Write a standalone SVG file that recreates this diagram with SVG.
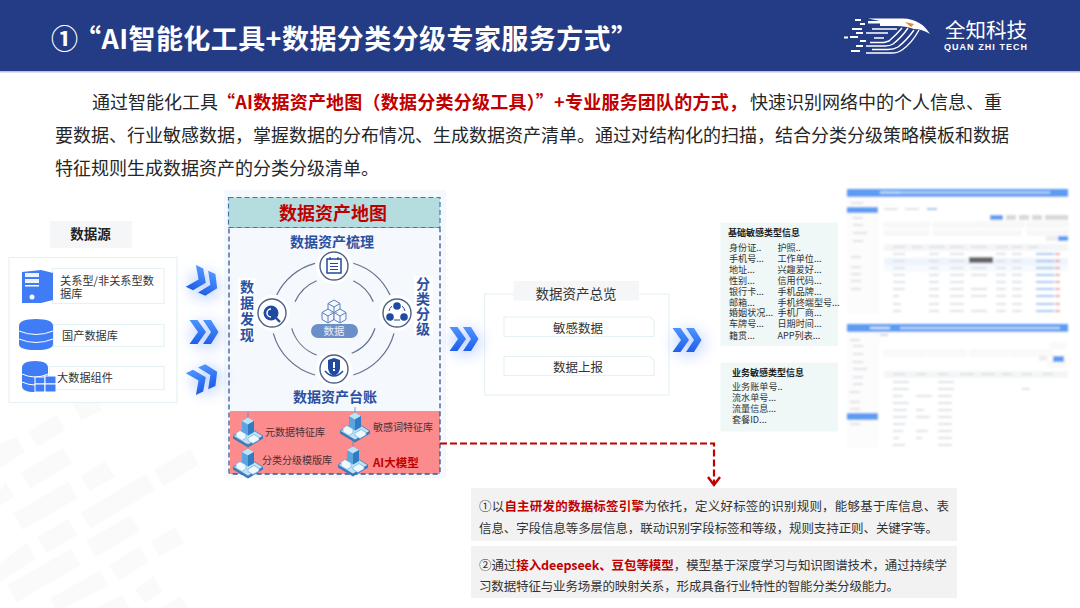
<svg xmlns="http://www.w3.org/2000/svg" width="1080" height="608" viewBox="0 0 1080 608">
<style>
text{font-family:"Noto Sans CJK SC","Liberation Sans",sans-serif}
.body{font-size:18px;fill:#262626}
.red{fill:#c00000;font-weight:700}
.lbl{font-size:11.2px;fill:#333}
.blue{font-size:14px;font-weight:700;fill:#2b50a0}
.sm{font-size:9.1px;fill:#333}
.smb{font-size:9px;fill:#222;font-weight:700}
.p{font-size:12.5px;fill:#333}
.frame{fill:#fff;stroke:#e4f2f5;stroke-width:1.2}
.ring{fill:none;stroke:#65718f;stroke-width:1.2}
.halo{fill:#fff}
.cir{fill:#fff;stroke:#4d6187;stroke-width:1.4}
.ic{fill:#1f4aa0}
.db{fill:#3f7cf5}
.bl{fill:#dfe2e7}
.cube{fill:#f5f8fd;stroke:#5a7fbc;stroke-width:1}
</style>
<defs>
<linearGradient id="cg" x1="0" y1="0" x2="0" y2="1"><stop offset="0" stop-color="#4d94ff"/><stop offset="1" stop-color="#1f5fe8"/></linearGradient>
<filter id="gl" x="-60%" y="-60%" width="220%" height="220%"><feGaussianBlur stdDeviation="7"/></filter>
<filter id="soft" x="-5%" y="-5%" width="110%" height="110%"><feGaussianBlur stdDeviation="0.8"/></filter>
<g id="chev">
<ellipse cx="2" cy="3" rx="16" ry="14" fill="#5c8cff" opacity=".3" filter="url(#gl)"/>
<path d="M-14.500-12h8L2 0-6.500 12h-8L-6 0Z" fill="url(#cg)"/>
<path d="M-1-12h8L14.500 0 7 12h-8L7 0Z" fill="url(#cg)"/>
</g>
<g id="bld">
<path d="M-15 3 0-6 15 3 0 12Z" fill="#bfe2f5" stroke="#3f7fbf" stroke-width=".8"/>
<path d="M-15 3 0 12 15 3V5.500L0 14.500-15 5.500Z" fill="#3d79b8"/>
<path d="M-6-1V-12L0-15.500 6-12V-1L0 2.500Z" fill="#5aa5e0"/>
<path d="M-6-12 0-15.500 6-12 0-8.500Z" fill="#bfe2f5"/>
<path d="M0-8.500V2.500L6-1V-12Z" fill="#2f7cc4"/>
<path d="M0-15.500V-21" stroke="#4d8cc4" stroke-width=".8"/>
<path d="M-12 0-8-2.500-2 1V5L-6 7.500-12 4Z" fill="#eef8fd" stroke="#5aa5e0" stroke-width=".6"/>
<path d="M0 5 6 1.500 11 4.500V7L5 10.500 0 7.500Z" fill="#eef8fd" stroke="#5aa5e0" stroke-width=".6"/>
</g>
<path id="cu" class="cube" d="M0-7 6-3.500V3.500L0 7-6 3.500V-3.500ZM-6-3.500 0 0 6-3.500M0 0V7"/>
</defs>

<rect width="1080" height="608" fill="#fff"/>
<g id="watermark" fill="#fafafb" transform="translate(0 400) scale(.33333)">
<path d="M0 130 50 112 75 155 0 205Z"/><path d="M85 95 168 43 197 90 112 140Z"/><path d="M220 15 285-20 307 30 245 62Z"/>
<path d="M63 218 188 143 217 190 92 265Z"/><path d="M0 275 15 243 43 290 0 318Z"/><path d="M40 340 205 245 233 295 68 390Z"/>
<path d="M242 230 315 182 343 230 270 273Z"/><path d="M462 210 570 147 597 195 490 258Z"/><path d="M242 338 437 222 466 270 272 385Z"/>
<path d="M112 410 205 358 232 405 140 460Z"/><path d="M258 422 392 345 420 393 288 470Z"/><path d="M0 490 80 428 108 475 0 545Z"/>
<path d="M22 555 212 447 242 495 50 607Z"/><path d="M452 425 525 380 552 427 480 470Z"/><path d="M327 495 417 440 445 487 357 543Z"/>
<path d="M150 595 298 512 325 558 190 624H165Z"/><path d="M405 570 460 528 487 575 435 608Z"/><path d="M290 624 365 585 390 624Z"/><path d="M485 624 540 587 565 624Z"/>
</g>

<g id="header">
<rect width="1080" height="71" fill="#243b85"/>
<rect y="71" width="1080" height="1.500" fill="#b9c2dc"/>
<text x="51" y="49" font-size="27" font-weight="700" fill="#fff">①</text>
<text x="74" y="49" font-size="27" font-weight="700" fill="#fff" textLength="564">“AI智能化工具+数据分类分级专家服务方式”</text>
</g>
<g id="logo">
<path d="M868 18.500H903Q921 19 930 34 922 29 914 29 906 26 896 26H880V23.500H868V21H880Z" fill="#fff"/>
<path d="M905 22 914 24 911 27Z" fill="#e8842a"/>
<g fill="none" stroke="#fff" stroke-width="1.400">
<path d="M919 30Q912 43 902 50 898 53 892 53H866"/>
<path d="M914 30Q907 40 898 47 894 49.500 888 49.500H872"/>
<path d="M908 28Q902 37 893 44 890 46 885 46H866"/>
<path d="M902 28Q897 34 889 41L884 42.500H870"/>
<path d="M897 29H872M888 33H866M884 38H874"/>
</g>
<g fill="#fff"><rect x="855" y="19" width="6" height="2"/><rect x="860" y="23" width="5" height="2"/><rect x="852" y="28" width="10" height="2"/><rect x="850" y="36" width="8" height="2"/><rect x="844" y="36.500" width="4" height="2"/><rect x="856" y="32" width="7" height="2"/><rect x="860" y="40" width="6" height="2"/><rect x="856" y="45" width="7" height="2"/><rect x="851" y="50" width="9" height="2"/></g>
<text x="945" y="38" font-size="20" fill="#fff" textLength="82" lengthAdjust="spacingAndGlyphs">全知科技</text>
<text x="944" y="50" font-size="9" font-weight="700" fill="#fff" textLength="83" style="font-family:'Liberation Sans',sans-serif">QUAN ZHI TECH</text>
</g>

<g id="intro">
<text class="body" x="92" y="109">通过智能化工具</text>
<text class="body red" x="217" y="109" textLength="530">“AI数据资产地图（数据分类分级工具）”+专业服务团队的方式，</text>
<text class="body" x="750" y="109">快速识别网络中的个人信息、重</text>
<text class="body" x="55" y="142">要数据、行业敏感数据，掌握数据的分布情况、生成数据资产清单。通过对结构化的扫描，结合分类分级策略模板和数据</text>
<text class="body" x="55" y="175">特征规则生成数据资产的分类分级清单。</text>
</g>

<g id="source">
<rect x="50" y="221" width="82" height="27" fill="#f5f6f8"/>
<text x="90.500" y="239" text-anchor="middle" font-size="13.500" font-weight="700" fill="#222">数据源</text>
<rect class="frame" x="9" y="257.500" width="168" height="145"/>
<rect class="frame" x="52.500" y="268.500" width="111.500" height="35"/>
<rect class="frame" x="53.500" y="324.500" width="110.500" height="22"/>
<rect class="frame" x="49.500" y="366.500" width="114.500" height="23"/>
<text class="lbl" x="60" y="284.500">关系型/非关系型数</text><text class="lbl" x="60" y="298">据库</text>
<text class="lbl" x="62" y="340">国产数据库</text>
<text class="lbl" x="57" y="382">大数据组件</text>
<path d="M22 272 41 270 53 273V300L41 303H22Z" class="db"/>
<g fill="#fff"><rect x="25" y="273" width="14" height="4" opacity=".9"/><rect x="25" y="279" width="14" height="4" opacity=".9"/><rect x="25" y="285" width="14" height="1.500"/><circle cx="32" cy="297" r="2.500"/></g>
<path class="db" d="M19 326Q19 319 36 319T53 326V344Q53 350 36 350T19 344Z"/>
<path d="M19 331Q36 338 53 331M19 339Q36 346 53 339" fill="none" stroke="#fff" stroke-width="1"/>
<path d="M22 368Q22 361 35 361T48 368V386Q48 392 35 392T22 386Z" class="db"/>
<path d="M22 374Q35 380 48 374M22 382Q35 388 48 382" fill="none" stroke="#fff" stroke-width="1"/>
<g class="db" stroke="#fff" stroke-width="1"><rect x="35" y="377" width="10" height="7"/><rect x="45" y="376" width="11" height="8"/><rect x="35" y="384" width="10" height="8"/><rect x="45" y="384" width="11" height="8"/></g>
</g>

<g id="asset-map">
<rect x="224" y="190" width="222" height="288" fill="#f5f8fd"/>
<rect x="230" y="411" width="210" height="63" fill="#fb8b8c"/>
<rect x="229" y="227" width="211" height="247" rx="2" fill="none" stroke="#37598f" stroke-width="1.300" stroke-dasharray="5 3"/>
<rect x="228.500" y="197.500" width="211.500" height="30" fill="#b5dde0" stroke="#3d7ba5" stroke-width="1.200" stroke-dasharray="5 3"/>
<text x="333" y="220" text-anchor="middle" font-size="18" font-weight="700" fill="#c00000">数据资产地图</text>
<text class="blue" x="332" y="247" text-anchor="middle">数据资产梳理</text>
<text class="blue" x="335" y="402" text-anchor="middle">数据资产台账</text>
<rect x="238" y="278" width="17" height="60" fill="#fff"/>
<g class="blue" text-anchor="middle"><text x="247" y="292">数</text><text x="247" y="308">据</text><text x="247" y="324">发</text><text x="247" y="340">现</text></g>
<rect x="414" y="276" width="19" height="59" fill="#fff"/>
<g class="blue" text-anchor="middle"><text x="423" y="289">分</text><text x="423" y="304">类</text><text x="423" y="319">分</text><text x="423" y="334">级</text></g>
<path class="ring" d="M276.700 295A60 60 0 0 1 315 263.300M353.300 263.300A60 60 0 0 1 390 295M394 333.300A60 60 0 0 1 353.300 375M315 375A60 60 0 0 1 273.300 333.300"/>
<path class="ring" d="M295 301.700A41 41 0 0 1 316.700 280.700M353.300 280.700A41 41 0 0 1 373.300 301.700M375 328.300A41 41 0 0 1 351.700 353.300M316.700 355A41 41 0 0 1 291.700 328.300"/>
<circle class="halo" cx="334" cy="266" r="18"/><circle class="cir" cx="334" cy="266" r="14"/>
<circle class="halo" cx="334" cy="369" r="18"/><circle class="cir" cx="334" cy="369" r="14"/>
<circle class="halo" cx="272" cy="313" r="18"/><circle class="cir" cx="272" cy="313" r="14"/>
<circle class="halo" cx="397" cy="313" r="18"/><circle class="cir" cx="397" cy="313" r="14"/>
<path d="M327 259H341V273H327Z" fill="none" stroke="#1f4aa0" stroke-width="1.500"/><path d="M330 263.500H338M330 266.500H338M330 269.500H338M330 257V260M338 257V260" stroke="#1f4aa0" stroke-width="1.200"/>
<path class="ic" d="M328 360 334 358 340 360V368Q340 373 334 376 328 373 328 368Z"/><rect x="333" y="362" width="2" height="6" fill="#fff"/><rect x="333" y="369" width="2" height="2" fill="#fff"/>
<path d="M325 371Q334 381 343 371" fill="none" stroke="#1f4aa0" stroke-width="1.500"/>
<circle class="ic" cx="271" cy="313" r="7.500"/><path d="M276 318 280 322" stroke="#1f4aa0" stroke-width="2.400"/><path d="M271 309A4 4 0 0 0 271 317" fill="none" stroke="#fff" stroke-width="1.500"/>
<circle class="ic" cx="397" cy="306" r="3.800"/><circle class="ic" cx="390" cy="317" r="3.800"/><circle class="ic" cx="404" cy="317" r="3.800"/><path d="M392 306A9 9 0 0 0 389 311M402 306A9 9 0 0 1 405 311M394 320H400" fill="none" stroke="#1f4aa0" stroke-width="1"/>
<use href="#cu" x="334" y="307"/><use href="#cu" x="328" y="316"/><use href="#cu" x="340" y="316"/>
<rect x="311" y="324" width="47" height="14" rx="7" fill="#6b8fc8"/>
<text x="334" y="335" text-anchor="middle" font-size="10.500" fill="#e8eef8">数据</text>
<use href="#bld" x="248" y="433"/><use href="#bld" x="355" y="428"/><use href="#bld" x="248" y="464"/><use href="#bld" x="353" y="462"/>
<g font-size="10" fill="#4a3038"><text x="265" y="436">元数据特征库</text><text x="373" y="431">敏感词特征库</text><text x="262" y="464">分类分级模版库</text></g>
<text x="373" y="467" font-size="11.500" font-weight="700" fill="#c00000">AI大模型</text>
</g>

<g id="overview">
<rect class="frame" x="484.500" y="294" width="184.500" height="101"/>
<rect x="513.500" y="281" width="125.500" height="19.500" fill="#f5f6f8"/>
<text x="576" y="299" text-anchor="middle" font-size="13.500" fill="#333">数据资产总览</text>
<path class="frame" d="M504 317H650L654 320.500V336.500H504Z"/>
<path class="frame" d="M504 356.500H650L654 360V375.500H504Z"/>
<text x="578" y="332.500" text-anchor="middle" font-size="12.500" fill="#333">敏感数据</text>
<text x="578" y="372" text-anchor="middle" font-size="12.500" fill="#333">数据上报</text>
</g>

<g id="connectors">
<use href="#chev" transform="translate(204 282) rotate(25)"/>
<use href="#chev" transform="translate(204 332)"/>
<use href="#chev" transform="translate(204 378) rotate(-25)"/>
<use href="#chev" transform="translate(464 339)"/>
<use href="#chev" transform="translate(687 340)"/>
<path d="M440 443.500H714V483" fill="none" stroke="#c00000" stroke-width="2.200" stroke-dasharray="7 3"/>
<path d="M708 477 714 485 720 477" fill="none" stroke="#c00000" stroke-width="2.400"/>
</g>

<g id="types">
<rect x="720.500" y="222.500" width="117.500" height="123.500" fill="#f0f7f7"/>
<text class="smb" x="728" y="236">基础敏感类型信息</text>
<g class="sm">
<text x="729" y="250.500">身份证..</text><text x="729" y="261.500">手机号...</text><text x="729" y="272.500">地址...</text><text x="729" y="283.500">性别...</text><text x="729" y="295">银行卡...</text><text x="729" y="305.500">邮箱...</text><text x="729" y="316">婚姻状况...</text><text x="729" y="327">车牌号...</text><text x="729" y="338.500">籍贯...</text>
<text x="777.500" y="250.500">护照..</text><text x="777.500" y="261.500">工作单位...</text><text x="777.500" y="272.500">兴趣爱好...</text><text x="777.500" y="283.500">信用代码...</text><text x="777.500" y="295">手机品牌...</text><text x="777.500" y="305.500">手机终端型号...</text><text x="777.500" y="316">手机厂商...</text><text x="777.500" y="327">日期时间...</text><text x="777.500" y="338.500">APP列表...</text>
</g>
<rect x="720.500" y="362.500" width="117.500" height="69" fill="#f0f7f7"/>
<text class="smb" x="732" y="376">业务敏感类型信息</text>
<g class="sm"><text x="732" y="389.500">业务账单号..</text><text x="732" y="400.500">流水单号...</text><text x="732" y="411.500">流量信息...</text><text x="732" y="422.500">套餐ID...</text></g>
</g>

<g id="screen1" filter="url(#soft)">
<rect x="848" y="189" width="220" height="125" fill="#fff"/>
<rect x="847" y="189" width="221" height="8" fill="#5b9cf2"/>
<rect x="880" y="191.500" width="20" height="2" fill="#dce9fb"/><rect x="900" y="191.500" width="150" height="2" fill="#c4daf8"/>
<rect x="847" y="197" width="32" height="117" fill="#fcfcfd"/>
<rect x="847" y="207" width="31" height="6" fill="#5b9cf2"/>
<g class="bl"><rect x="851" y="202" width="12" height="2"/><rect x="853" y="217" width="10" height="2"/><rect x="853" y="224" width="10" height="2"/><rect x="853" y="232" width="14" height="2"/><rect x="853" y="240" width="10" height="2"/><rect x="851" y="256" width="10" height="2"/><rect x="851" y="266" width="10" height="2"/><rect x="851" y="273" width="10" height="2"/><rect x="851" y="280" width="10" height="2"/><rect x="851" y="288" width="10" height="2"/></g>
<g class="bl"><rect x="884" y="208" width="14" height="2"/><rect x="905" y="208" width="14" height="2"/></g><rect x="927" y="208" width="10" height="2" fill="#9cc0ef"/>
<rect x="990" y="215" width="13" height="5" fill="#5b9cf2"/><g fill="#d8d8d8"><rect x="1006" y="215" width="10" height="5"/><rect x="1019" y="215" width="10" height="5"/><rect x="1032" y="215" width="10" height="5"/><rect x="1045" y="215" width="23" height="5"/></g>
<g fill="#f8f8f8" stroke="#eee" stroke-width=".5"><rect x="884" y="222" width="45" height="5"/><rect x="933" y="222" width="45" height="5"/><rect x="979" y="222" width="45" height="5"/><rect x="1027" y="222" width="41" height="5"/><rect x="884" y="230" width="45" height="5"/><rect x="933" y="230" width="88" height="5"/><rect x="1027" y="230" width="41" height="5"/></g>
<rect x="1046" y="236" width="11" height="5" fill="#eee"/><rect x="1058" y="236" width="10" height="5" fill="#5b9cf2"/>
<rect x="884" y="244" width="184" height="7" fill="#f4f5f7"/>
<rect x="884" y="258" width="184" height="7" fill="#eef4fc"/><rect x="884" y="265" width="184" height="7" fill="#f7fafe"/>
<rect x="969" y="257" width="24" height="6" fill="#666"/>
<g class="bl"><rect x="893" y="246" width="12" height="2"/><rect x="912" y="246" width="10" height="2"/><rect x="929" y="246" width="16" height="2"/><rect x="950" y="246" width="14" height="2"/><rect x="971" y="246" width="16" height="2"/><rect x="996" y="246" width="12" height="2"/><rect x="1012" y="246" width="10" height="2"/><rect x="1028" y="246" width="10" height="2"/></g>
<g class="bl"><rect x="893" y="253" width="12" height="2"/><rect x="929" y="253" width="10" height="2"/><rect x="950" y="253" width="14" height="2"/><rect x="996" y="253" width="10" height="2"/><rect x="1012" y="253" width="10" height="2"/><rect x="893" y="260" width="12" height="2"/><rect x="929" y="260" width="10" height="2"/><rect x="950" y="260" width="14" height="2"/><rect x="996" y="260" width="10" height="2"/><rect x="1012" y="260" width="10" height="2"/><rect x="893" y="267" width="12" height="2"/><rect x="929" y="267" width="10" height="2"/><rect x="950" y="267" width="14" height="2"/><rect x="971" y="267" width="16" height="2"/><rect x="996" y="267" width="10" height="2"/><rect x="1012" y="267" width="10" height="2"/><rect x="893" y="274" width="12" height="2"/><rect x="929" y="274" width="10" height="2"/><rect x="950" y="274" width="14" height="2"/><rect x="971" y="274" width="16" height="2"/><rect x="996" y="274" width="10" height="2"/><rect x="1012" y="274" width="10" height="2"/><rect x="893" y="281" width="12" height="2"/><rect x="929" y="281" width="10" height="2"/><rect x="950" y="281" width="14" height="2"/><rect x="996" y="281" width="10" height="2"/><rect x="1012" y="281" width="10" height="2"/><rect x="893" y="288" width="12" height="2"/><rect x="929" y="288" width="10" height="2"/><rect x="950" y="288" width="14" height="2"/><rect x="971" y="288" width="16" height="2"/><rect x="996" y="288" width="10" height="2"/><rect x="1012" y="288" width="10" height="2"/><rect x="893" y="295" width="6" height="2"/><rect x="929" y="295" width="10" height="2"/><rect x="950" y="295" width="14" height="2"/><rect x="971" y="295" width="16" height="2"/><rect x="996" y="295" width="10" height="2"/><rect x="1012" y="295" width="10" height="2"/><rect x="893" y="303" width="8" height="2"/><rect x="929" y="303" width="10" height="2"/><rect x="950" y="303" width="14" height="2"/><rect x="996" y="303" width="10" height="2"/><rect x="1012" y="303" width="10" height="2"/><rect x="893" y="310" width="8" height="2"/><rect x="929" y="310" width="10" height="2"/><rect x="950" y="310" width="14" height="2"/><rect x="971" y="310" width="16" height="2"/><rect x="996" y="310" width="10" height="2"/><rect x="1012" y="310" width="10" height="2"/></g>
<g fill="#9cc4f2"><rect x="1036" y="253" width="18" height="2"/><rect x="1036" y="260" width="18" height="2"/><rect x="1036" y="267" width="18" height="2"/><rect x="1036" y="274" width="18" height="2"/><rect x="1036" y="281" width="18" height="2"/><rect x="1036" y="288" width="18" height="2"/><rect x="1036" y="295" width="18" height="2"/><rect x="1036" y="303" width="18" height="2"/><rect x="1036" y="310" width="18" height="2"/></g>
<g fill="#eb9a9a"><rect x="1055" y="253" width="5" height="2"/><rect x="1055" y="260" width="5" height="2"/><rect x="1055" y="267" width="5" height="2"/><rect x="1055" y="274" width="5" height="2"/><rect x="1055" y="281" width="5" height="2"/><rect x="1055" y="288" width="5" height="2"/><rect x="1055" y="295" width="5" height="2"/><rect x="1055" y="303" width="5" height="2"/><rect x="1055" y="310" width="5" height="2"/></g>
</g>

<g id="screen2" filter="url(#soft)">
<rect x="848" y="324" width="220" height="124" fill="#fff"/>
<rect x="847" y="324" width="221" height="8" fill="#5b9cf2"/>
<rect x="870" y="327" width="20" height="2" fill="#dce9fb"/><rect x="900" y="327" width="160" height="2" fill="#c4daf8"/>
<rect x="847" y="332" width="32" height="116" fill="#fcfcfd"/>
<rect x="847" y="413" width="31" height="7" fill="#5b9cf2"/>
<g class="bl"><rect x="850" y="339" width="10" height="2"/><rect x="853" y="345" width="10" height="2"/><rect x="853" y="353" width="10" height="2"/><rect x="853" y="361" width="10" height="2"/><rect x="853" y="368" width="14" height="2"/><rect x="853" y="376" width="10" height="2"/><rect x="853" y="383" width="10" height="2"/><rect x="850" y="391" width="10" height="2"/><rect x="850" y="401" width="10" height="2"/><rect x="850" y="408" width="10" height="2"/><rect x="850" y="423" width="10" height="2"/></g>
<rect x="880" y="334" width="8" height="2" fill="#cfd4dc"/>
<g fill="#fafafa" stroke="#eee" stroke-width=".5"><rect x="884" y="350" width="41" height="6"/><rect x="928" y="350" width="38" height="6"/><rect x="970" y="350" width="38" height="6"/><rect x="1011" y="350" width="41" height="6"/><rect x="1051" y="343" width="15" height="5"/><rect x="1048" y="361" width="18" height="6"/></g>
<rect x="1039" y="356" width="8" height="5" fill="#eee"/><rect x="1053" y="356" width="11" height="6" fill="#5b9cf2"/>
<rect x="884" y="371" width="184" height="7" fill="#f4f5f7"/>
<g class="bl"><rect x="893" y="373" width="12" height="2"/><rect x="916" y="373" width="10" height="2"/><rect x="938" y="373" width="10" height="2"/><rect x="960" y="373" width="14" height="2"/><rect x="981" y="373" width="14" height="2"/><rect x="1002" y="373" width="10" height="2"/><rect x="1022" y="373" width="10" height="2"/><rect x="1043" y="373" width="10" height="2"/>
<rect x="893" y="381" width="16" height="2"/><rect x="938" y="381" width="16" height="2"/><rect x="893" y="388" width="16" height="2"/><rect x="938" y="388" width="16" height="2"/><rect x="1022" y="388" width="8" height="2"/><rect x="893" y="395" width="10" height="2"/><rect x="916" y="395" width="16" height="2"/><rect x="938" y="395" width="14" height="2"/><rect x="893" y="402" width="16" height="2"/><rect x="938" y="402" width="14" height="2"/><rect x="893" y="409" width="14" height="2"/><rect x="916" y="409" width="8" height="2"/><rect x="938" y="409" width="14" height="2"/><rect x="893" y="416" width="14" height="2"/><rect x="916" y="416" width="14" height="2"/><rect x="938" y="416" width="14" height="2"/><rect x="893" y="423" width="12" height="2"/><rect x="938" y="423" width="14" height="2"/><rect x="893" y="430" width="10" height="2"/><rect x="916" y="430" width="12" height="2"/><rect x="938" y="430" width="14" height="2"/><rect x="893" y="437" width="6" height="2"/><rect x="916" y="437" width="6" height="2"/><rect x="938" y="437" width="14" height="2"/><rect x="893" y="444" width="12" height="2"/><rect x="938" y="444" width="14" height="2"/></g>
</g>

<g id="notes">
<rect x="471" y="488" width="486" height="53" fill="#f2f2f2"/>
<rect x="471" y="546" width="486" height="52" fill="#f2f2f2"/>
<text class="p" x="479" y="510.500" textLength="470">①以<tspan class="red">自主研发的数据标签引擎</tspan>为依托，定义好标签的识别规则，能够基于库信息、表</text>
<text class="p" x="479" y="533" textLength="459">信息、字段信息等多层信息，联动识别字段标签和等级，规则支持正则、关键字等。</text>
<text class="p" x="479" y="569.500" textLength="468">②通过<tspan class="red">接入deepseek、豆包等模型</tspan>，模型基于深度学习与知识图谱技术，通过持续学</text>
<text class="p" x="479" y="591" textLength="420">习数据特征与业务场景的映射关系，形成具备行业特性的智能分类分级能力。</text>
</g>
</svg>
